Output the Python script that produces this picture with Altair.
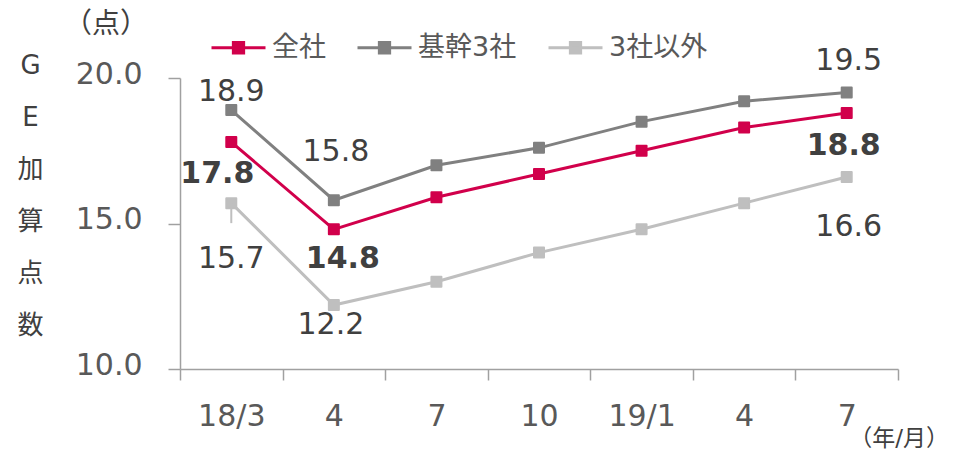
import json
import pandas as pd
import altair as alt

# ---- data ----
months = ["18/3", "4", "7", "10", "19/1", "4", "7"]
series_names = ["全社", "基幹3社", "3社以外"]
zensha = [17.8, 14.8, 15.9, 16.7, 17.5, 18.3, 18.8]
kikan = [18.9, 15.8, 17.0, 17.6, 18.5, 19.2, 19.5]
other = [15.7, 12.2, 13.0, 14.0, 14.8, 15.7, 16.6]
y_ticks = [10, 15, 20]
y_title_chars = ["G", "E", "加", "算", "点", "数"]
y_unit = "（点）"
x_unit = "（年/月）"

colors = ["#D1004B", "#808080", "#BFBFBF"]
FONT = "DejaVu Sans, Noto Sans CJK JP"
AX_GRAY = "#A0A0A0"
LABEL_GRAY = "#595959"
TEXT_DARK = "#404040"

rows = []
for name, vals in zip(series_names, [zensha, kikan, other]):
    for i, v in enumerate(vals):
        rows.append({"idx": i, "series": name, "value": v})
df = pd.DataFrame(rows)

n = len(months)
label_expr = f"({json.dumps(months)})[round(datum.value + 0.5)] || ''"

x_enc = alt.X(
    "idx:Q",
    scale=alt.Scale(domain=[-0.5, n - 0.5], nice=False, zero=False),
    axis=alt.Axis(
        values=[i - 0.5 for i in range(n + 1)],
        labelExpr=label_expr,
        labelOffset=718 / n / 2,
        labelFlush=False,
        labelOverlap=False,
        labelBound=False,
        grid=False,
        tickSize=11,
        labelPadding=21,
        title=None,
    ),
)
y_enc = alt.Y(
    "value:Q",
    scale=alt.Scale(domain=[10, 20], nice=False, zero=False),
    axis=alt.Axis(
        values=y_ticks,
        format=".1f",
        grid=False,
        tickSize=12,
        labelPadding=26,
        labelOffset=-4,
        title=y_title_chars,
        titleAngle=0,
        titleX=-150,
        titleY=-13,
        titleAlign="center",
        titleBaseline="middle",
        titleLineHeight=52,
        titleFontSize=26,
        titleFontWeight="normal",
        titleColor=TEXT_DARK,
        titleFont=FONT,
    ),
)

legend_path = "M-1,0H1M-0.19,-0.19H0.19V0.19H-0.19Z"
color_enc = alt.Color(
    "series:N",
    scale=alt.Scale(domain=series_names, range=colors),
    legend=alt.Legend(
        title=None,
        orient="none",
        direction="horizontal",
        legendX=30,
        legendY=-59,
        symbolType=legend_path,
        symbolSize=2916,
        symbolStrokeWidth=3,
        symbolOpacity=1,
        labelFont=FONT,
        labelFontSize=27,
        labelColor=LABEL_GRAY,
        labelOffset=5,
        columnPadding=25,
        padding=0,
    ),
)

base = alt.Chart(df)
layers = []
for s in reversed(series_names):
    sub = base.transform_filter(alt.datum.series == s)
    layers.append(
        sub.mark_line(strokeWidth=3).encode(x=x_enc, y=y_enc, color=color_enc)
    )
    layers.append(
        sub.mark_point(
            shape="square", filled=True, size=100, opacity=1,
            strokeWidth=2, strokeJoin="round"
        ).encode(x=x_enc, y=y_enc, color=color_enc, stroke=color_enc)
    )

# leader line for first 3社以外 label
layers.append(
    base.transform_filter((alt.datum.series == "3社以外") & (alt.datum.idx == 0))
    .mark_rule(color="#BFBFBF", strokeWidth=2, y2Offset=20)
    .encode(x=x_enc, y=y_enc, y2=alt.Y2("value:Q"))
)

# data labels: (series, idx, dx, dy, bold)
label_specs = [
    ("基幹3社", 0, 0, -18, False),
    ("基幹3社", 1, 2, -48, False),
    ("基幹3社", 6, 2, -32, False),
    ("全社", 0, -14, 32, True),
    ("全社", 1, 9, 30, True),
    ("全社", 6, -3, 33, True),
    ("3社以外", 0, 0, 56, False),
    ("3社以外", 1, -3, 20, False),
    ("3社以外", 6, 2, 50, False),
]
for s, i, dx, dy, bold in label_specs:
    layers.append(
        base.transform_filter((alt.datum.series == s) & (alt.datum.idx == i))
        .mark_text(
            font=FONT, fontSize=30, color=TEXT_DARK,
            fontWeight="bold" if bold else "normal",
            align="center", baseline="middle", dx=dx, dy=dy,
        )
        .encode(x=x_enc, y=y_enc, text=alt.Text("value:Q", format=".1f"))
    )

# unit annotations
layers.append(
    alt.Chart(pd.DataFrame({"t": [y_unit]}))
    .mark_text(font=FONT, fontSize=28, color=TEXT_DARK, align="center", baseline="middle")
    .encode(x=alt.value(-74), y=alt.value(-53), text="t:N")
)
layers.append(
    alt.Chart(pd.DataFrame({"t": [x_unit]}))
    .mark_text(font=FONT, fontSize=23, color=TEXT_DARK, align="right", baseline="middle")
    .encode(x=alt.value(769), y=alt.value(361), text="t:N")
)

chart = (
    alt.layer(*layers)
    .properties(
        width=718,
        height=291,
        autosize=alt.AutoSizeParams(type="none"),
        padding={"left": 172, "top": 70, "right": 53, "bottom": 82},
    )
    .configure_view(stroke=None)
    .configure_axis(
        labelFont=FONT,
        labelFontSize=30,
        labelColor=LABEL_GRAY,
        domainColor=AX_GRAY,
        domainWidth=1.5,
        tickColor=AX_GRAY,
        tickWidth=1.5,
    )
)

chart.save("out.html", embed_options={"renderer": "svg", "actions": False})
